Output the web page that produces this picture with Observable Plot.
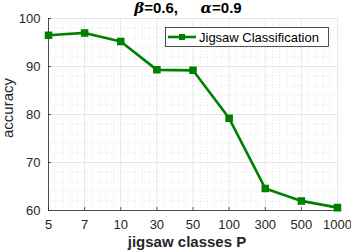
<!DOCTYPE html>
<html><head><meta charset="utf-8">
<script src="https://cdn.jsdelivr.net/npm/d3@7"></script>
<script src="https://cdn.jsdelivr.net/npm/@observablehq/plot@0.6"></script>
<style>
body{margin:0;background:#fff;}
svg{font-family:"Liberation Sans",Arial,sans-serif;}
</style>
</head><body>
<div id="chart"></div>
<script>
const categories = ["5","7","10","30","50","100","300","500","1000"];
const accuracy = [96.5, 97.0, 95.2, 89.3, 89.2, 79.2, 64.6, 62.0, 60.6];
const yTicks = [60, 70, 80, 90, 100];
const seriesName = "Jigsaw Classification";

const data = categories.map((c, i) => ({i, c, v: accuracy[i]}));
const xIdx = d3.range(categories.length);
const xMinor = d3.range(0, categories.length - 1 + 1e-9, 0.2).filter(v => Math.abs(v - Math.round(v)) > 1e-6);
const yMinor = d3.range(60, 100.001, 2).filter(v => v % 10 !== 0);
const green = "#008000";

const plot = Plot.plot({
  width: 351, height: 251,
  marginLeft: 48, marginRight: 14, marginTop: 18, marginBottom: 41,
  style: {fontFamily: "'Liberation Sans', Arial, sans-serif", fontSize: "13px", color: "#262626", background: "white"},
  x: {type: "linear", domain: [0, categories.length - 1], ticks: xIdx, tickFormat: i => categories[i], label: null},
  y: {domain: [60, 100], ticks: yTicks, label: null},
  marks: [
    Plot.gridX(xMinor, {stroke: "#c8c8c8", strokeOpacity: 0.7, strokeDasharray: "1,2", strokeWidth: 0.6}),
    Plot.gridY(yMinor, {stroke: "#c8c8c8", strokeOpacity: 0.7, strokeDasharray: "1,2", strokeWidth: 0.6}),
    Plot.gridX(xIdx, {stroke: "#dcdcdc", strokeOpacity: 1, strokeWidth: 0.7}),
    Plot.gridY(yTicks, {stroke: "#dcdcdc", strokeOpacity: 1, strokeWidth: 0.7}),
    Plot.axisX(xIdx, {tickFormat: i => categories[i], tickSize: 0, tickPadding: 9, fontSize: 13, fill: "#262626"}),
    Plot.ruleX(xIdx, {x: d => d, y1: 60, y2: 60.6, stroke: "#262626", strokeWidth: 0.8}),
    Plot.axisY(yTicks, {tickSize: 0, tickPadding: 8, fontSize: 13, fill: "#262626"}),
    Plot.ruleY(yTicks, {y: d => d, x1: 0, x2: 0.08, stroke: "#262626", strokeWidth: 0.8}),
    Plot.ruleX([0], {stroke: "#262626", strokeWidth: 0.8}),
    Plot.ruleY([60], {stroke: "#262626", strokeWidth: 0.8}),
    Plot.line(data, {x: "i", y: "v", stroke: green, strokeWidth: 2.6}),
    Plot.dot(data, {x: "i", y: "v", symbol: "square", r: 3.4, fill: green, stroke: green})
  ]
});

const svg = d3.select(plot);
svg.attr("overflow", "visible");
// title
const t = svg.append("text").attr("x", 188).attr("y", 13).attr("text-anchor", "middle")
  .attr("font-size", 15).attr("font-weight", "bold").attr("fill", "#000");
t.append("tspan").attr("font-family", "'DejaVu Serif',serif").attr("font-style", "italic").text("β");
t.append("tspan").text("=0.6,\u2003\u2002");
t.append("tspan").attr("font-family", "'DejaVu Serif',serif").attr("font-style", "italic").text("α");
t.append("tspan").text("=0.9");
// axis labels
svg.append("text").attr("transform", "translate(13,108) rotate(-90)").attr("text-anchor", "middle")
  .attr("font-size", 15).attr("fill", "#262626").text("accuracy");
svg.append("text").attr("x", 187).attr("y", 247).attr("text-anchor", "middle")
  .attr("font-size", 15).attr("font-weight", "bold").attr("fill", "#262626").text("jigsaw classes P");
// legend
const lg = svg.append("g").attr("text-anchor", "start");
lg.append("rect").attr("x", 165.5).attr("y", 27.5).attr("width", 163).attr("height", 19)
  .attr("fill", "white").attr("stroke", "#262626").attr("stroke-width", 0.8);
lg.append("line").attr("x1", 168).attr("x2", 196).attr("y1", 37).attr("y2", 37).attr("stroke", green).attr("stroke-width", 2.6);
lg.append("rect").attr("x", 179).attr("y", 34).attr("width", 6).attr("height", 6).attr("fill", green);
lg.append("text").attr("x", 199).attr("y", 41.5).attr("text-anchor", "start").attr("font-size", 13).attr("fill", "#000").text(seriesName);

document.getElementById("chart").appendChild(plot);
</script>
</body></html>
